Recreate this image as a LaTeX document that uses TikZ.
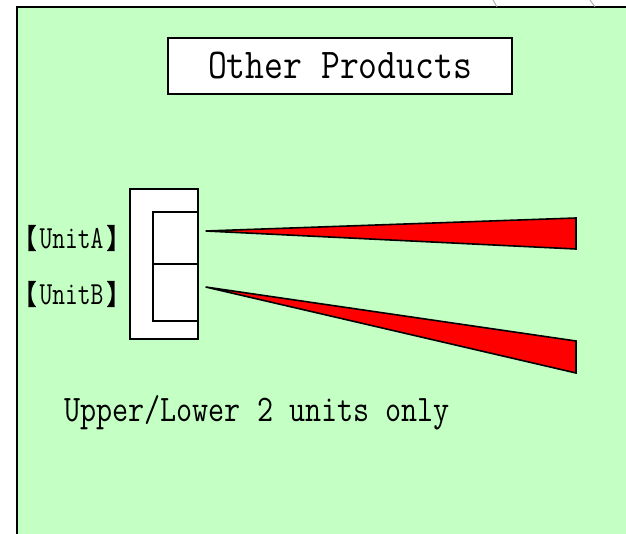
\documentclass[tikz,border=0pt]{standalone}
\usepackage{fontspec}
\usepackage{graphicx}
\usetikzlibrary{calc}
\newfontfamily\cjkfont{Noto Sans CJK JP}[FakeBold=1.5]
\definecolor{bggreen}{RGB}{196,255,196}
\definecolor{wedgered}{RGB}{255,0,0}
\tikzset{
  unitbox/.style={draw=black, line width=1.3pt, fill=white},
  wedge/.style={draw=black, line width=1.6pt, fill=wedgered, line join=miter},
  monotext/.style={inner sep=0pt, font=\ttfamily},
  faint/.style={draw=black!35, line width=0.8pt}
}
\newcommand{\tallmono}[2]{\scalebox{1}[#1]{#2}}
\newcommand{\lbr}{{\cjkfont\fontsize{24}{24}\selectfont\tallmono{1.15}{【}}}
\newcommand{\rbr}{{\cjkfont\fontsize{24}{24}\selectfont\tallmono{1.15}{】}}}
\begin{document}
\begin{tikzpicture}[x=1pt,y=-1pt]
\useasboundingbox (0,0) rectangle (626,534);
% background panel
\fill[bggreen] (17,7) rectangle (626,534);
\draw[line width=2pt] (17,534) -- (17,7) -- (626,7);
\draw[faint] (493,0) -- (497,7);
\draw[faint] (590,0) -- (595,7);
% title
\node[unitbox, line width=1.5pt, minimum width=344pt, minimum height=56pt, inner sep=0pt] (title) at (340,66)
  {\fontsize{36.6}{36}\ttfamily\tallmono{1.16}{Other Products}};
% unit holder
\node[unitbox, minimum width=68pt, minimum height=150pt, inner sep=0pt] (holder) at (164,264) {};
\node[unitbox, minimum width=45pt, minimum height=52pt, inner sep=0pt] (ua) at (175.5,238) {};
\node[unitbox, minimum width=45pt, minimum height=57pt, inner sep=0pt] (ub) at (175.5,292.5) {};
% labels
\node[monotext, anchor=center] (la) at (71.5,238)
  {\lbr\hspace{3pt}\fontsize{24.8}{25}\ttfamily\tallmono{1.3}{UnitA}\hspace{3pt}\rbr};
\node[monotext, anchor=center] (lb) at (71.5,294)
  {\lbr\hspace{3pt}\fontsize{24.8}{25}\ttfamily\tallmono{1.3}{UnitB}\hspace{3pt}\rbr};
% wedges
\coordinate (ta) at ($(ua.east)+(7,-7)$);
\coordinate (tb) at ($(ub.east)+(7,-5.5)$);
\coordinate (ea1) at (576,218);
\coordinate (ea2) at (576,249);
\coordinate (eb1) at (576,341);
\coordinate (eb2) at (576,373);
\draw[wedge] (ta) -- (ea1) -- (ea2) -- cycle;
\draw[wedge] (tb) -- (eb1) -- (eb2) -- cycle;
% bottom note
\node[monotext, anchor=west] (note) at (64,413)
  {\fontsize{31.2}{31}\ttfamily\tallmono{1.2}{Upper/Lower 2 units only}};
\end{tikzpicture}
\end{document}
